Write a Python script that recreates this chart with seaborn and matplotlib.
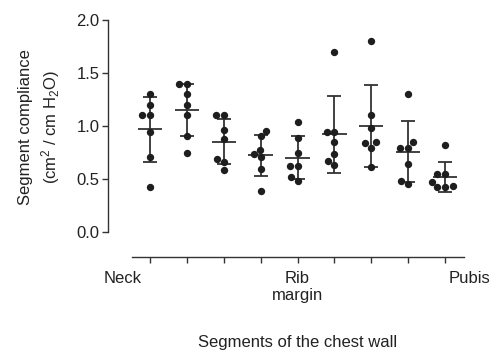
import numpy as np
import pandas as pd
import matplotlib
matplotlib.use("Agg")
import matplotlib.pyplot as plt
import matplotlib.transforms as mtransforms
import seaborn as sns

# ---- data ----
segments = ["S1", "S2", "S3", "S4", "S5", "S6", "S7", "S8", "S9"]
seg1 = [1.30, 1.20, 1.10, 1.10, 0.94, 0.71, 0.42]
seg2 = [1.40, 1.40, 1.30, 1.20, 1.10, 0.91, 0.75]
seg3 = [1.10, 1.10, 0.965, 0.875, 0.69, 0.66, 0.585]
seg4 = [0.953, 0.906, 0.774, 0.733, 0.705, 0.594, 0.39]
seg5 = [1.035, 0.884, 0.742, 0.623, 0.623, 0.52, 0.48]
seg6 = [1.70, 0.94, 0.94, 0.846, 0.733, 0.673, 0.632]
seg7 = [1.80, 1.10, 0.984, 0.852, 0.837, 0.795, 0.61]
seg8 = [1.30, 0.852, 0.795, 0.795, 0.64, 0.48, 0.453]
seg9 = [0.82, 0.545, 0.545, 0.47, 0.43, 0.42, 0.42]
tick_labels = ["Neck", "", "", "", "Rib\nmargin", "", "", "", "Pubis"]
y_ticks = [0.0, 0.5, 1.0, 1.5, 2.0]
x_title = "Segments of the chest wall"
y_title = "Segment compliance\n(cm$^2$ / cm H$_2$O)"

all_vals = [seg1, seg2, seg3, seg4, seg5, seg6, seg7, seg8, seg9]
df = pd.DataFrame({
    "segment": np.repeat(segments, [len(v) for v in all_vals]),
    "value": np.concatenate(all_vals),
})

sns.set_style("ticks")
plt.rcParams["font.family"] = ["Liberation Sans", "DejaVu Sans"]
plt.rcParams["mathtext.default"] = "regular"

W, H = 500, 352
fig = plt.figure(figsize=(W / 100, H / 100), dpi=100)
ax = fig.add_axes([108 / W, (H - 257) / H, (464 - 108) / W, (257 - 20) / H])

ink = "#1e1e1e"
sns.swarmplot(data=df, x="segment", y="value", order=segments, color=ink,
              size=5.3, ax=ax, zorder=3)

means = df.groupby("segment", sort=False)["value"].mean().reindex(segments).values
sds = df.groupby("segment", sort=False)["value"].std().reindex(segments).values
xs = np.arange(len(segments))
ax.errorbar(xs, means, yerr=sds, fmt="none", ecolor="#333333", elinewidth=1.3,
            capsize=4.7, capthick=1.3, zorder=2)
ax.hlines(means, xs - 0.33, xs + 0.33, color="#333333", lw=1.3, zorder=2)

ppu = (445 - 150) / 8.0
ax.set_xlim(-(150 - 108) / ppu, 8 + (464 - 445) / ppu)
ax.set_ylim(-(257 - 232) / 106.0, 2.0)
ax.spines["left"].set_bounds(0, 2.0)
ax.spines["bottom"].set_bounds(-(150 - 132) / ppu, 8 + (464 - 445) / ppu)
for s in ["top", "right"]:
    ax.spines[s].set_visible(False)
for s in ["left", "bottom"]:
    ax.spines[s].set_color("#333333")
    ax.spines[s].set_linewidth(1.0)

ax.set_yticks(y_ticks)
ax.set_yticklabels([f"{v:.1f}" for v in y_ticks])
ax.set_xticks(xs)
ax.set_xticklabels(tick_labels)
ax.tick_params(axis="both", colors="#333333", labelcolor="#222222",
               labelsize=12, length=4, width=1.0)
ax.tick_params(axis="y", pad=2)
ax.tick_params(axis="x", pad=6)

# shift end labels as in the reference
xl = ax.get_xticklabels()
xl[0].set_transform(xl[0].get_transform() +
                    mtransforms.ScaledTranslation(-27 / 100, 0, fig.dpi_scale_trans))
xl[8].set_transform(xl[8].get_transform() +
                    mtransforms.ScaledTranslation(25 / 100, 0, fig.dpi_scale_trans))

ax.set_xlabel("")
ax.set_ylabel("")
fig.text(298 / W, 1 - 342 / H, x_title, ha="center", va="center",
         fontsize=12, color="#222222")
fig.text(40 / W, 1 - 127 / H, y_title, ha="center", va="center", rotation=90,
         fontsize=12, color="#222222", multialignment="center", linespacing=1.3)

fig.savefig("out.png", dpi=100)
